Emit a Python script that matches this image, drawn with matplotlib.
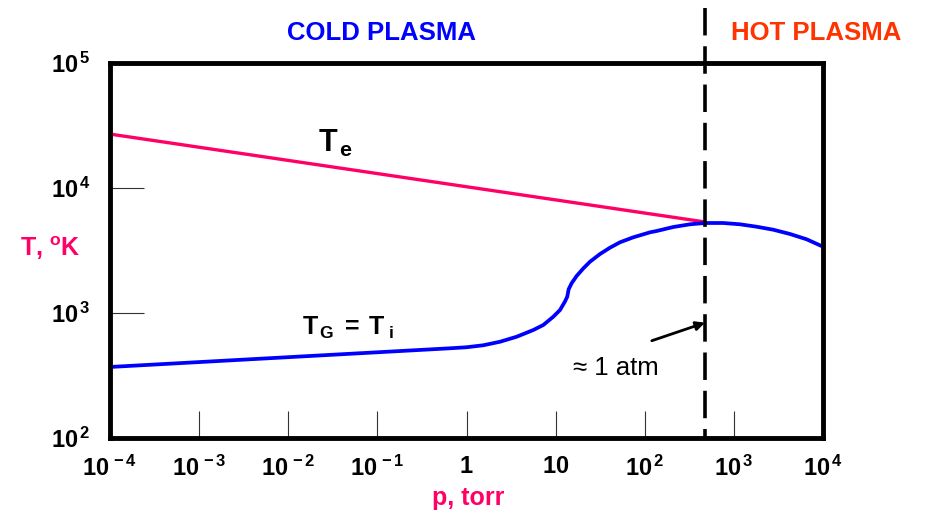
import matplotlib
matplotlib.use("Agg")
import matplotlib.pyplot as plt
import matplotlib.transforms as mtransforms
from matplotlib.ticker import NullLocator

plt.rcParams['font.family'] = ['Liberation Sans', 'DejaVu Sans']
plt.rcParams['mathtext.fontset'] = 'custom'
plt.rcParams['mathtext.rm'] = 'Liberation Sans'
plt.rcParams['mathtext.bf'] = 'Liberation Sans:bold'
plt.rcParams['mathtext.it'] = 'Liberation Sans:italic'

# axis ticks
p_ticks = [1e-4, 1e-3, 1e-2, 1e-1, 1, 10, 1e2, 1e3, 1e4]
p_labels = [r"$\mathbf{10^{\,-4}}$", r"$\mathbf{10^{\,-3}}$", r"$\mathbf{10^{\,-2}}$",
            r"$\mathbf{10^{\,-1}}$", r"$\mathbf{1}$", r"$\mathbf{10}$",
            r"$\mathbf{10^{\,2}}$", r"$\mathbf{10^{\,3}}$", r"$\mathbf{10^{\,4}}$"]
t_ticks = [1e2, 1e3, 1e4, 1e5]
t_labels = [r"$\mathbf{10^{\,2}}$", r"$\mathbf{10^{\,3}}$",
            r"$\mathbf{10^{\,4}}$", r"$\mathbf{10^{\,5}}$"]

# electron temperature (straight line on log-log)
te_p = [1e-4, 474]
te_T = [27000, 5350]

# gas / ion temperature
tg_p = [1e-4, 0.653, 1.00, 1.545, 2.38, 3.66, 5.62, 7.28, 9.42, 11.2, 12.7,
        13.5, 14.0, 15.1, 17.2, 20.5, 24.3, 31.5, 40.7, 52.7, 74.4, 115, 136,
        209, 322, 474, 761, 1172, 1803, 2767, 4266, 6561, 1e4]
tg_T = [370, 522, 532, 552, 589, 646, 731, 802, 934, 1057, 1232,
        1350, 1548, 1728, 1977, 2278, 2572, 2965, 3329, 3678, 4033, 4423, 4529,
        4875, 5124, 5248, 5248, 5124, 4900, 4637, 4285, 3886, 3392]

p_atm = 474

fig = plt.figure(figsize=(9.27, 5.14), dpi=100)
ax = fig.add_axes([110 / 927, 76 / 514, 713 / 927, 375 / 514])
ax.set_xscale('log')
ax.set_yscale('log')
ax.set_xlim(1e-4, 1e4)
ax.set_ylim(1e2, 1e5)

ax.plot(te_p, te_T, color='#ff0066', lw=2.4, solid_capstyle='butt', zorder=2)
ax.plot(tg_p, tg_T, color='#0000ff', lw=2.7, solid_joinstyle='round',
        solid_capstyle='butt', zorder=2)

# 1 atm boundary, runs up past the frame
trans = mtransforms.blended_transform_factory(ax.transData, ax.transAxes)
ax.plot([p_atm, p_atm], [1.147, 0.0], transform=trans, color='black', lw=2.6,
        dashes=(7.6, 3.0), clip_on=False, zorder=3)

ax.annotate('', xy=(p_atm, 836), xytext=(120, 600),
            arrowprops=dict(arrowstyle='-|>', color='black', lw=2.0,
                            mutation_scale=13, shrinkA=0, shrinkB=0))
ax.text(15.7, 319, "\u2248 1 atm", fontsize=18.5, ha='left', va='baseline')

ax.text(0.0216, 19400, r"$\mathbf{T_{\,e}}$", fontsize=22, ha='left', va='baseline')
ax.text(0.0143, 667, r"$\mathbf{T_{\,G}\;=\;T_{\;i}}$", fontsize=18,
        ha='left', va='baseline')

ax.set_xticks(p_ticks, p_labels)
ax.set_yticks(t_ticks, t_labels)
ax.xaxis.set_minor_locator(NullLocator())
ax.yaxis.set_minor_locator(NullLocator())
ax.tick_params(axis='x', direction='in', length=19.5, width=0.8, color='#333333',
               pad=13, labelsize=17)
ax.tick_params(axis='y', direction='in', length=24.5, width=0.8, color='#333333',
               pad=14, labelsize=17)

for s in ax.spines.values():
    s.set_linewidth(3.5)

fig.text(381.5 / 927, 1 - 40 / 514, "COLD PLASMA", color='#0000ff', fontsize=18.5,
         fontweight='bold', ha='center', va='baseline')
fig.text(816.5 / 927, 1 - 40 / 514, "HOT PLASMA", color='#ff3300', fontsize=18.5,
         fontweight='bold', ha='center', va='baseline')
fig.text(20 / 927, 1 - 256 / 514, r"T, $^{\mathbf{o}}$K", color='#ff0066', fontsize=18,
         fontweight='bold', ha='left', va='baseline')
fig.text(468 / 927, 1 - 505 / 514, "p, torr", color='#ff0066', fontsize=18,
         fontweight='bold', ha='center', va='baseline')

fig.savefig("out.png", dpi=100)
